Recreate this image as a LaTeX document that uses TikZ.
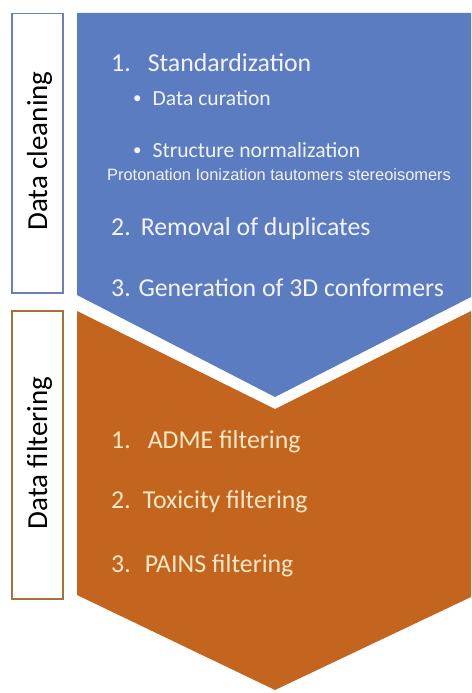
\documentclass[tikz,border=0pt]{standalone}
\usepackage{fontspec}
\setmainfont{Carlito}
\newfontfamily\arialfont{Liberation Sans}
\usepackage{tikz}

\definecolor{cleanblue}{HTML}{5B7CC0}
\definecolor{cleanedge}{HTML}{6B80B8}
\definecolor{filterorange}{HTML}{C3651F}
\definecolor{filteredge}{HTML}{A8713C}
\definecolor{cream}{HTML}{FAE8C6}
\definecolor{paleblue}{HTML}{F2F4FA}

\newcommand{\stepbullet}{\raisebox{1.5pt}{\fontsize{17}{18}\selectfont\textbullet}\hspace{11pt}}

\begin{document}
\begin{tikzpicture}[x=1pt, y=-1pt]

  % Styles for the stage boxes and the list entries.
  \tikzset{
    stage-box/.style={draw, line width=1.5pt, fill=white, minimum width=51pt, inner sep=0pt, anchor=north west},
    stage-label/.style={rotate=90, anchor=base, inner sep=0pt, font=\fontsize{29}{32}\selectfont},
    item/.style={anchor=base west, inner sep=0pt, font=\fontsize{25.8}{28}\selectfont},
    sub-item/.style={anchor=base west, inner sep=0pt, font=\fontsize{21.6}{24}\selectfont},
    small-item/.style={anchor=base west, inner sep=0pt, font=\arialfont\fontsize{16.4}{18}\selectfont}
  }

  \useasboundingbox (0,0) rectangle (471,693);

  % Draw the two chevrons.
  \fill[cleanblue] (77,13) -- (471,13) -- (471,297) -- (275,397) -- (77,295) -- cycle;
  \fill[filterorange] (77,311) -- (275,409) -- (471,311) -- (471,597) -- (275,690) -- (77,595) -- cycle;

  % Place the stage boxes on the left.
  \node [stage-box, draw=cleanedge, minimum height=279pt] (cleaning-box) at (11,13) {};
  \node [stage-box, draw=filteredge, minimum height=288pt] (filtering-box) at (11,310) {};

  \node [stage-label] (cleaning-label) at (47,151) {Data cleaning};
  \node [stage-label] (filtering-label) at (47,453) {Data filtering};

  % Place the cleaning steps.
  \begin{scope}[text=paleblue]
    \node [item] (standardization) at (111,71) {1.\hspace{17pt}Standardization};
    \node [sub-item] (curation) at (133,105) {\stepbullet Data curation};
    \node [sub-item] (normalization) at (133,157) {\stepbullet Structure normalization};
    \node [small-item] (protonation) at (107,180) {Protonation Ionization tautomers stereoisomers};
    \node [item] (duplicates) at (111,235) {2.\hspace{10pt}Removal of duplicates};
    \node [item] (conformers) at (111,296) {3. Generation of 3D conformers};
  \end{scope}

  % Place the filtering steps.
  \begin{scope}[text=cream]
    \node [item] (adme) at (111,448) {1.\hspace{17pt}ADME filtering};
    \node [item] (toxicity) at (111,508) {2.\hspace{12pt}Toxicity filtering};
    \node [item] (pains) at (111,572) {3.\hspace{14pt}PAINS filtering};
  \end{scope}

\end{tikzpicture}
\end{document}
